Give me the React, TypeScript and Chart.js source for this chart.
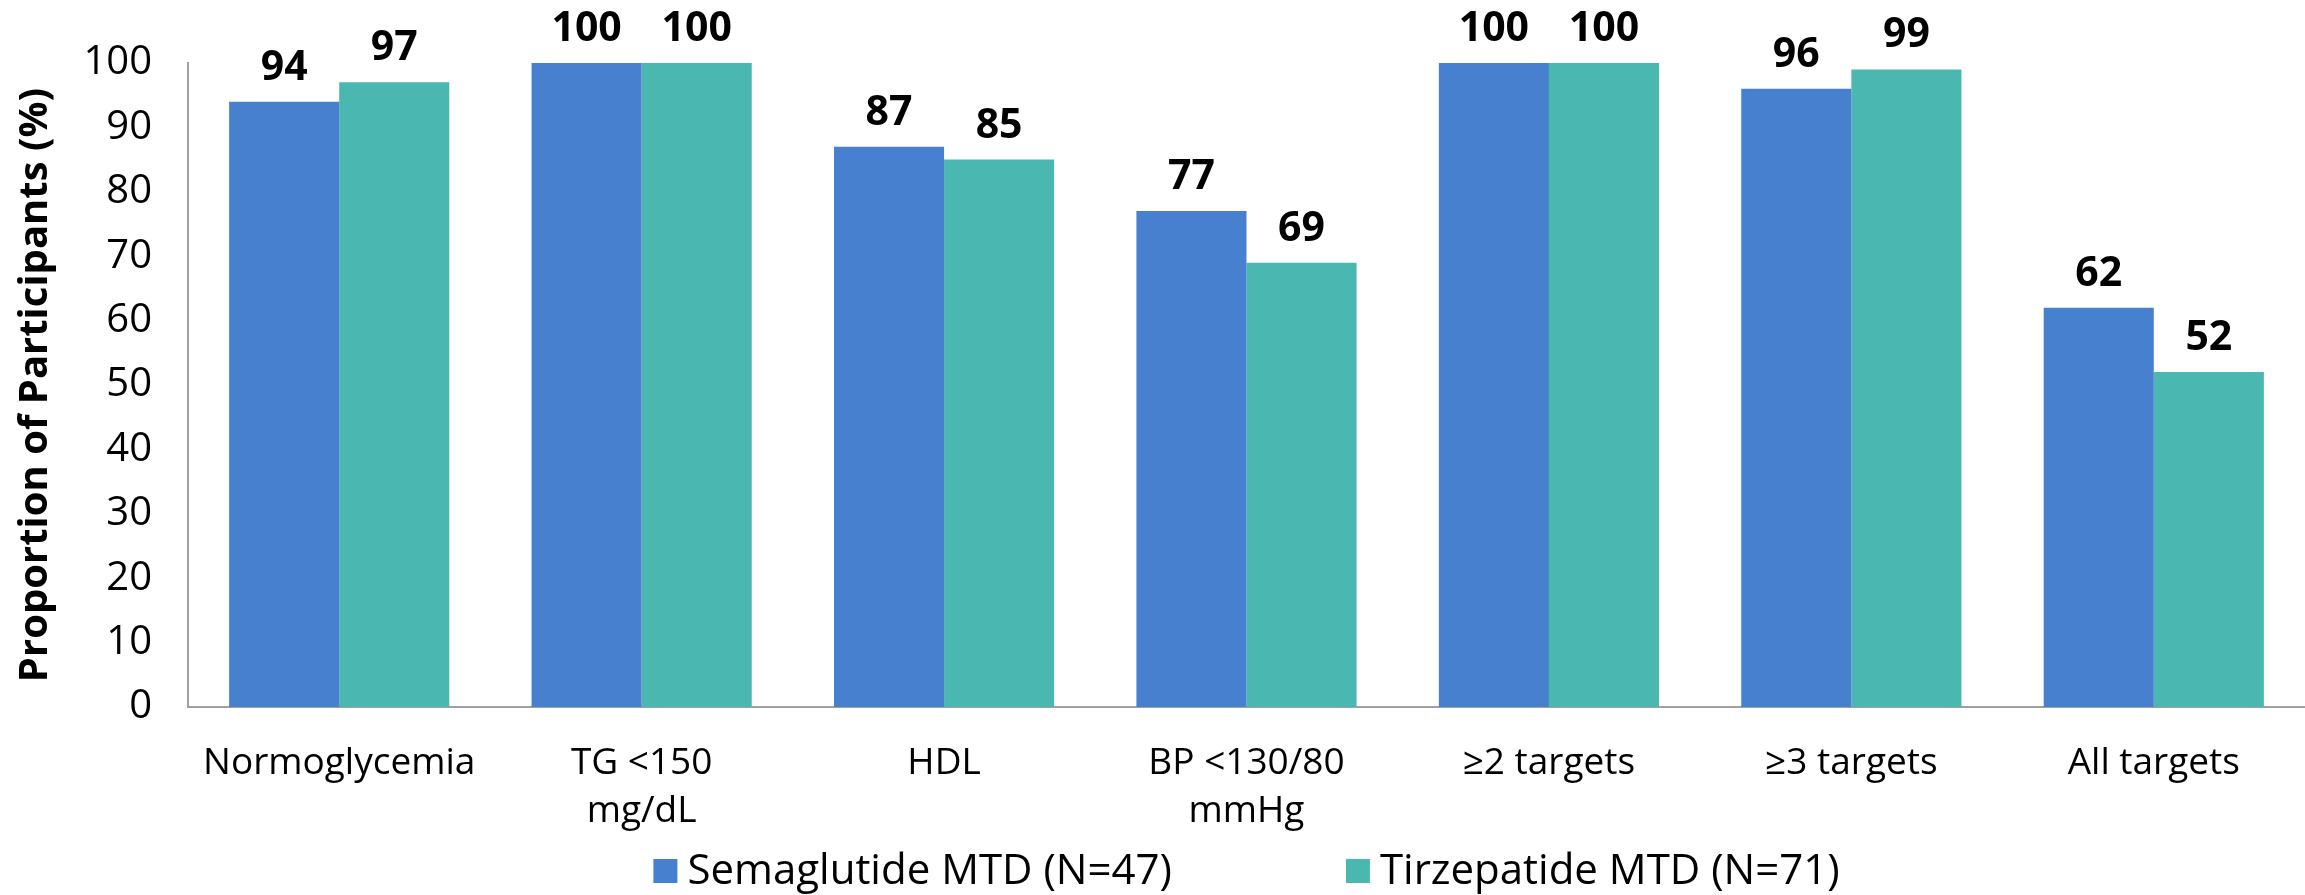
import React, { useEffect, useRef } from "react";
import { Chart, registerables } from "chart.js";

Chart.register(...registerables);

const categories: (string | string[])[] = [
  "Normoglycemia",
  ["TG <150", "mg/dL"],
  "HDL",
  ["BP <130/80", "mmHg"],
  "≥2 targets",
  "≥3 targets",
  "All targets",
];
const semaglutide = [94, 100, 87, 77, 100, 96, 62];
const tirzepatide = [97, 100, 85, 69, 100, 99, 52];
const seriesNames = ["Semaglutide MTD (N=47)", "Tirzepatide MTD (N=71)"];
const seriesColors = ["#4780cf", "#4ab7b0"];
const yTicks = [0, 10, 20, 30, 40, 50, 60, 70, 80, 90, 100];

const FONT = "'Open Sans', 'DejaVu Sans', sans-serif";

const valueLabels = {
  id: "valueLabels",
  afterDatasetsDraw(chart: any) {
    const ctx = chart.ctx;
    ctx.save();
    ctx.font = `bold 41px ${FONT}`;
    ctx.fillStyle = "#000";
    ctx.textAlign = "center";
    ctx.textBaseline = "alphabetic";
    chart.data.datasets.forEach((ds: any, di: number) => {
      const meta = chart.getDatasetMeta(di);
      meta.data.forEach((bar: any, i: number) => {
        ctx.fillText(String(ds.data[i]), bar.x, bar.y - 22);
      });
    });
    ctx.restore();
  },
};

const customLegend = {
  id: "customLegend",
  afterDraw(chart: any) {
    const ctx = chart.ctx;
    const box = 24;
    const gap = 10;
    const spacing = 174;
    const yc = 871;
    ctx.save();
    ctx.font = `42px ${FONT}`;
    const items = chart.data.datasets.map((ds: any) => ({
      text: ds.label,
      color: ds.backgroundColor,
      w: box + gap + ctx.measureText(ds.label).width,
    }));
    const total = items.reduce((s: number, it: any) => s + it.w, 0) + spacing * (items.length - 1);
    const cx = (chart.chartArea.left + chart.chartArea.right) / 2;
    let x = cx - total / 2;
    ctx.textBaseline = "middle";
    ctx.textAlign = "left";
    items.forEach((it: any) => {
      ctx.fillStyle = it.color;
      ctx.fillRect(x, yc - box / 2, box, box);
      ctx.fillStyle = "#000";
      ctx.fillText(it.text, x + box + gap, yc + 1);
      x += it.w + spacing;
    });
    ctx.restore();
  },
};

export default function App() {
  const ref = useRef<HTMLCanvasElement>(null);
  useEffect(() => {
    document.body.style.margin = "0";
    document.body.style.overflow = "hidden";
    const canvas = ref.current!;
    const chart = new Chart(canvas, {
      type: "bar",
      data: {
        labels: categories,
        datasets: [
          {
            label: seriesNames[0],
            data: semaglutide,
            backgroundColor: seriesColors[0],
            barPercentage: 1,
            categoryPercentage: 0.728,
          },
          {
            label: seriesNames[1],
            data: tirzepatide,
            backgroundColor: seriesColors[1],
            barPercentage: 1,
            categoryPercentage: 0.728,
          },
        ],
      },
      options: {
        responsive: false,
        animation: false,
        devicePixelRatio: 1,
        layout: { padding: { top: 63, right: 0, bottom: 0, left: 0 } },
        plugins: {
          legend: { display: false },
          tooltip: { enabled: false },
        },
        scales: {
          x: {
            grid: { display: false },
            border: { display: true, color: "#a0a0a0", width: 2 },
            ticks: {
              color: "#000",
              font: { family: FONT, size: 37, lineHeight: 1.3 },
              padding: 24,
              maxRotation: 0,
              autoSkip: false,
            },
            afterFit(scale: any) {
              scale.height = 188;
            },
          },
          y: {
            min: 0,
            max: 100,
            afterBuildTicks(scale: any) {
              scale.ticks = yTicks.map((v) => ({ value: v }));
            },
            grid: { display: false },
            border: { display: true, color: "#a0a0a0", width: 2 },
            ticks: {
              color: "#000",
              font: { family: FONT, size: 40 },
              padding: 28,
            },
            title: {
              display: true,
              text: "Proportion of Participants (%)",
              color: "#000",
              font: { family: FONT, size: 40, weight: "bold" },
              padding: { top: 12, bottom: 0 },
            },
            afterFit(scale: any) {
              scale.width = 188;
            },
          },
        },
      },
      plugins: [valueLabels, customLegend],
    });
    return () => chart.destroy();
  }, []);
  return (
    <div style={{ width: 2305, height: 895 }}>
      <canvas ref={ref} width={2305} height={895} style={{ display: "block" }} />
    </div>
  );
}
